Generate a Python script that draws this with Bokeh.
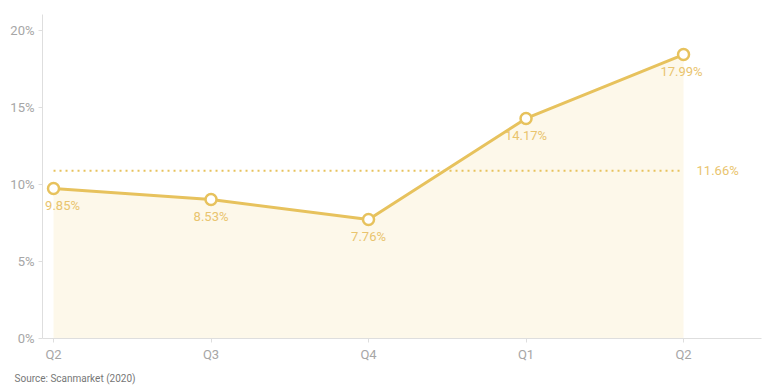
from bokeh.plotting import figure
from bokeh.models import Range1d, FixedTicker, PrintfTickFormatter, Title, ColumnDataSource
from bokeh.core.properties import value
from bokeh.embed import file_html
from bokeh.resources import INLINE

# ---- data ----
quarters = ["Q2", "Q3", "Q4", "Q1", "Q2"]
rates = [9.74, 9.03, 7.73, 14.29, 18.44]          # plotted positions (%)
rate_labels = ["9.85%", "8.53%", "7.76%", "14.17%", "17.99%"]
average_level = 10.9
average_label = "11.66%"
y_ticks = [0, 5, 10, 15, 20]
source_text = "Source: Scanmarket (2020)"

xs = list(range(len(quarters)))
label_dx = [9, 0, 0, 0, -2]

LINE = "#e7c25d"
TXT = "#e9c46e"
FILL = "#fdf8ea"
GRAY = "#a6a6a6"
FONT = "Roboto"

p = figure(frame_width=719, frame_height=324,
           min_border_left=42, min_border_right=2, min_border_top=14, min_border_bottom=20,
           x_range=Range1d(-0.07, 4.495), y_range=Range1d(0, 21.04),
           output_backend="svg", toolbar_location=None)
p.outline_line_color = None
p.xgrid.visible = False
p.ygrid.visible = False
p.background_fill_color = "white"
p.border_fill_color = "white"

src = ColumnDataSource(dict(x=xs, y=rates, lab=rate_labels, dx=label_dx))

p.varea(x="x", y1=0, y2="y", source=src, fill_color=FILL, fill_alpha=1)
p.line(x=[xs[0], xs[-1]], y=[average_level, average_level], line_color=LINE,
       line_width=2, line_dash="2 4")
p.line(x="x", y="y", source=src, line_color=LINE, line_width=3)
p.scatter(x="x", y="y", source=src, size=11, fill_color="white", line_color=LINE, line_width=2.5)
p.text(x="x", y="y", text="lab", source=src, x_offset="dx", y_offset=17,
       text_align="center", text_baseline="middle", text_color=TXT,
       text_font=value(FONT), text_font_size="13px")
p.text(x=[xs[-1]], y=[average_level], text=[average_label], x_offset=13,
       text_align="left", text_baseline="middle", text_color=TXT,
       text_font=value(FONT), text_font_size="13px")

# axes
for ax in (p.xaxis[0], p.yaxis[0]):
    ax.axis_line_color = "#dedede"
    ax.major_tick_line_color = "#dedede"
    ax.major_tick_out = 4
    ax.major_tick_in = 0
    ax.minor_tick_line_color = None
    ax.major_label_text_color = GRAY
    ax.major_label_text_font = FONT
    ax.major_label_text_font_size = "13px"
    ax.major_label_standoff = 4

p.xaxis.ticker = FixedTicker(ticks=xs)
p.xaxis.major_label_overrides = {i: q for i, q in enumerate(quarters)}
p.yaxis.ticker = FixedTicker(ticks=y_ticks)
p.yaxis.formatter = PrintfTickFormatter(format="%d%%")

t = Title(text=source_text, align="left", text_font=FONT, text_font_size="10px",
          text_font_style="normal", text_color="#777777", offset=-28, standoff=13)
p.add_layout(t, "below")

open("out.html", "w").write(file_html(p, INLINE))
